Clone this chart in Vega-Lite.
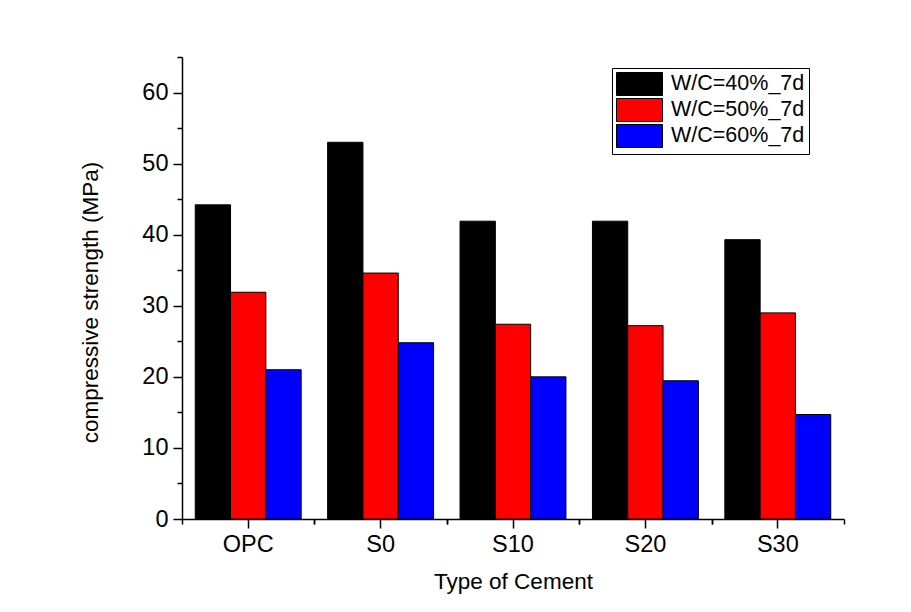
{
  "$schema": "https://vega.github.io/schema/vega-lite/v6.json",
  "width": 662,
  "height": 462,
  "autosize": "none",
  "padding": {"left": 182, "top": 57, "right": 67, "bottom": 93},
  "background": "white",
  "config": {
    "view": {"stroke": null},
    "font": "Liberation Sans",
    "axis": {"grid": false, "domainColor": "black", "tickColor": "black", "labelColor": "black", "titleColor": "black", "domainWidth": 1.5, "tickWidth": 1.5, "labelFont": "Liberation Sans", "titleFont": "Liberation Sans", "labelFontSize": 23.5, "titleFontSize": 22.5, "titleFontWeight": "normal"},
    "legend": {"labelFont": "Liberation Sans", "labelFontSize": 21.5, "labelColor": "black"}
  },
  "data": {
    "values": [
      {"cement": "OPC", "series": "W/C=40%_7d", "strength": 44.2},
      {"cement": "OPC", "series": "W/C=50%_7d", "strength": 31.9},
      {"cement": "OPC", "series": "W/C=60%_7d", "strength": 21.0},
      {"cement": "S0", "series": "W/C=40%_7d", "strength": 53.0},
      {"cement": "S0", "series": "W/C=50%_7d", "strength": 34.6},
      {"cement": "S0", "series": "W/C=60%_7d", "strength": 24.8},
      {"cement": "S10", "series": "W/C=40%_7d", "strength": 41.9},
      {"cement": "S10", "series": "W/C=50%_7d", "strength": 27.4},
      {"cement": "S10", "series": "W/C=60%_7d", "strength": 20.0},
      {"cement": "S20", "series": "W/C=40%_7d", "strength": 41.9},
      {"cement": "S20", "series": "W/C=50%_7d", "strength": 27.2},
      {"cement": "S20", "series": "W/C=60%_7d", "strength": 19.45},
      {"cement": "S30", "series": "W/C=40%_7d", "strength": 39.3},
      {"cement": "S30", "series": "W/C=50%_7d", "strength": 29.0},
      {"cement": "S30", "series": "W/C=60%_7d", "strength": 14.7}
    ]
  },
  "layer": [
    {
      "mark": {"type": "bar", "stroke": "black", "strokeWidth": 1},
      "encoding": {
        "x": {
          "field": "cement", "type": "nominal", "sort": ["OPC", "S0", "S10", "S20", "S30"],
          "scale": {"paddingInner": 0.2, "paddingOuter": 0.1},
          "axis": {"title": "Type of Cement", "labelAngle": 0, "tickSize": 9, "labelPadding": 4, "titleY": 51, "titleBaseline": "top", "titlePadding": 10}
        },
        "xOffset": {
          "field": "series", "type": "nominal", "sort": ["W/C=40%_7d", "W/C=50%_7d", "W/C=60%_7d"],
          "scale": {"paddingInner": 0, "paddingOuter": 0}
        },
        "y": {
          "field": "strength", "type": "quantitative",
          "scale": {"domain": [0, 65], "nice": false},
          "axis": {
            "title": "compressive strength (MPa)",
            "values": [0, 5, 10, 15, 20, 25, 30, 35, 40, 45, 50, 55, 60, 65],
            "labelExpr": "datum.value % 10 === 0 ? datum.label : ''",
            "tickSize": {"condition": {"test": "datum.value % 10 === 0", "value": 9}, "value": 5},
            "labelPadding": 5,
            "titleX": -80, "titleY": 245, "titleAngle": -90, "titleAlign": "center", "titleBaseline": "bottom"
          }
        },
        "color": {
          "field": "series", "type": "nominal",
          "scale": {"domain": ["W/C=40%_7d", "W/C=50%_7d", "W/C=60%_7d"], "range": ["#000000", "#ff0000", "#0000ff"]},
          "legend": {
            "title": null, "orient": "none", "legendX": 430, "legendY": 11,
            "symbolType": "M-1,-1H3V1H-1Z", "symbolSize": 529,
            "symbolStrokeColor": "black", "symbolStrokeWidth": 1, "symbolOpacity": 1,
            "strokeColor": "black", "fillColor": "white", "padding": 4,
            "rowPadding": -2, "labelOffset": 31, "labelLimit": 400
          }
        }
      }
    },
    {
      "mark": {"type": "bar", "opacity": 0},
      "encoding": {
        "x": {
          "field": "cement", "type": "nominal", "sort": ["OPC", "S0", "S10", "S20", "S30"],
          "axis": {"orient": "bottom", "title": null, "labels": false, "domain": false, "bandPosition": 0, "tickExtra": false, "tickOffset": -13.24, "tickSize": 5}
        }
      }
    },
    {
      "mark": {"type": "bar", "opacity": 0},
      "encoding": {
        "x": {
          "field": "cement", "type": "nominal", "sort": ["OPC", "S0", "S10", "S20", "S30"],
          "axis": {"orient": "bottom", "title": null, "labels": false, "domain": false, "bandPosition": 1, "tickExtra": false, "tickOffset": 13.24, "tickSize": 5}
        }
      }
    }
  ],
  "resolve": {"axis": {"x": "independent"}}
}
